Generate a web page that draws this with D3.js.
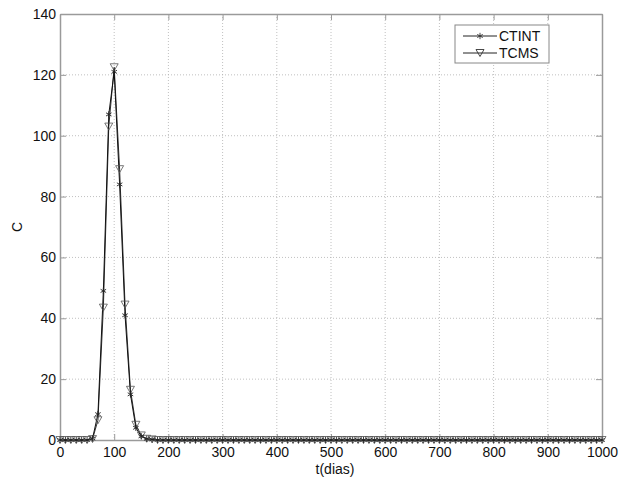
<!DOCTYPE html>
<html>
<head>
<meta charset="utf-8">
<script src="https://cdn.jsdelivr.net/npm/d3@7"></script>
<style>
  body { margin: 0; background: #fff; }
  text { font-family: "Liberation Sans", Arial, sans-serif; fill: #111; }
</style>
</head>
<body>
<svg id="chart" width="621" height="486"></svg>
<script>
// time (days)
var tDays = [0,10,20,30,40,50,60,70,80,90,100,110,120,130,140,150,160,170,180,190,
  200,210,220,230,240,250,260,270,280,290,300,310,320,330,340,350,360,370,380,390,
  400,410,420,430,440,450,460,470,480,490,500,510,520,530,540,550,560,570,580,590,
  600,610,620,630,640,650,660,670,680,690,700,710,720,730,740,750,760,770,780,790,
  800,810,820,830,840,850,860,870,880,890,900,910,920,930,940,950,960,970,980,990,1000];

// CTINT series
var ctint = [0,0,0,0,0,0,0.5,8.5,49,107,121,84,41,15,4,1.2,0.4,0.2,0,0,
  0,0,0,0,0,0,0,0,0,0,0,0,0,0,0,0,0,0,0,0,
  0,0,0,0,0,0,0,0,0,0,0,0,0,0,0,0,0,0,0,0,
  0,0,0,0,0,0,0,0,0,0,0,0,0,0,0,0,0,0,0,0,
  0,0,0,0,0,0,0,0,0,0,0,0,0,0,0,0,0,0,0,0,0];

// TCMS series
var tcms = [0,0,0,0,0,0,0.3,6.5,43.5,103,122.5,89,44.5,16.5,5,1.5,0.4,0.2,0,0,
  0,0,0,0,0,0,0,0,0,0,0,0,0,0,0,0,0,0,0,0,
  0,0,0,0,0,0,0,0,0,0,0,0,0,0,0,0,0,0,0,0,
  0,0,0,0,0,0,0,0,0,0,0,0,0,0,0,0,0,0,0,0,
  0,0,0,0,0,0,0,0,0,0,0,0,0,0,0,0,0,0,0,0,0];

var xTicks = [0,100,200,300,400,500,600,700,800,900,1000];
var yTicks = [0,20,40,60,80,100,120,140];

var mLeft = 60, mRight = 602, mTop = 14, mBottom = 440;
var width = mRight - mLeft, height = mBottom - mTop;

var svg = d3.select("#chart");
var g = svg.append("g").attr("transform", `translate(${mLeft},${mTop})`);

var xScale = d3.scaleLinear().domain([0, 1000]).range([0, width]);
var yScale = d3.scaleLinear().domain([0, 140]).range([height, 0]);

var axisColor = "#9a9a9a";

// grid
g.append("g").selectAll("line")
    .data(xTicks.slice(1, -1))
    .enter().append("line")
    .attr("x1", d => xScale(d)).attr("x2", d => xScale(d))
    .attr("y1", 0).attr("y2", height)
    .attr("stroke", "#b0b0b0").attr("stroke-width", 0.8)
    .attr("stroke-dasharray", "1,2");
g.append("g").selectAll("line")
    .data(yTicks.slice(1, -1))
    .enter().append("line")
    .attr("y1", d => yScale(d)).attr("y2", d => yScale(d))
    .attr("x1", 0).attr("x2", width)
    .attr("stroke", "#b0b0b0").attr("stroke-width", 0.8)
    .attr("stroke-dasharray", "1,2");

// axes (ticks inside, matlab style)
function styleAxis(sel) {
    sel.select(".domain").attr("stroke", axisColor).attr("stroke-width", 1.5);
    sel.selectAll(".tick line").attr("stroke", axisColor);
    sel.selectAll(".tick text").style("font-size", "14px").attr("fill", "#111");
}
g.append("g").attr("transform", `translate(0,${height})`)
    .call(d3.axisBottom(xScale).tickValues(xTicks).tickFormat(d3.format("d"))
        .tickSizeInner(-6).tickSizeOuter(0).tickPadding(7))
    .call(styleAxis);
g.append("g")
    .call(d3.axisLeft(yScale).tickValues(yTicks).tickSizeInner(-6).tickSizeOuter(0).tickPadding(4))
    .call(styleAxis);
g.append("g")
    .call(d3.axisTop(xScale).tickValues(xTicks).tickSizeInner(-6).tickSizeOuter(0).tickFormat(""))
    .call(styleAxis);
g.append("g").attr("transform", `translate(${width},0)`)
    .call(d3.axisRight(yScale).tickValues(yTicks).tickSizeInner(-6).tickSizeOuter(0).tickFormat(""))
    .call(styleAxis);

// lines
var ctintData = tDays.map((t, i) => ({t: t, v: ctint[i]}));
var tcmsData = tDays.map((t, i) => ({t: t, v: tcms[i]}));
var line = d3.line().x(d => xScale(d.t)).y(d => yScale(d.v));

g.append("path").datum(tcmsData)
    .attr("fill", "none").attr("stroke", "#333").attr("stroke-width", 1)
    .attr("d", line);
g.append("path").datum(ctintData)
    .attr("fill", "none").attr("stroke", "#111").attr("stroke-width", 1)
    .attr("d", line);

var starSym = d3.symbol().type(d3.symbolAsterisk).size(28);
var triPath = "M-4,-3.5L4,-3.5L0,3.5Z";

g.append("g").selectAll("path")
    .data(tcmsData)
    .enter().append("path")
    .attr("transform", d => `translate(${xScale(d.t)},${yScale(d.v)})`)
    .attr("d", triPath)
    .attr("fill", "none").attr("stroke", "#555").attr("stroke-width", 0.8);
g.append("g").selectAll("path")
    .data(ctintData)
    .enter().append("path")
    .attr("transform", d => `translate(${xScale(d.t)},${yScale(d.v)})`)
    .attr("d", starSym)
    .attr("fill", "none").attr("stroke", "#222").attr("stroke-width", 0.9);

// axis labels
svg.append("text")
    .attr("x", 335).attr("y", 474)
    .attr("text-anchor", "middle").style("font-size", "14px")
    .text("t(dias)");
svg.append("text")
    .attr("transform", "translate(22," + (mTop + height / 2) + ") rotate(-90)")
    .attr("text-anchor", "middle").style("font-size", "14px")
    .text("C");

// legend
var legend = svg.append("g");
legend.append("rect")
    .attr("x", 455).attr("y", 25).attr("width", 94).attr("height", 38)
    .attr("fill", "#fff").attr("stroke", "#888").attr("stroke-width", 1);
var legendItems = [
    {name: "CTINT", y: 36, sym: "star"},
    {name: "TCMS", y: 53, sym: "tri"}
];
legendItems.forEach(function(it) {
    legend.append("line")
        .attr("x1", 463).attr("x2", 497).attr("y1", it.y).attr("y2", it.y)
        .attr("stroke", "#222").attr("stroke-width", 1);
    legend.append("path")
        .attr("transform", `translate(480,${it.y})`)
        .attr("d", it.sym == "star" ? starSym : triPath)
        .attr("fill", "none").attr("stroke", "#333").attr("stroke-width", 0.9);
    legend.append("text")
        .attr("x", 499).attr("y", it.y + 5)
        .style("font-size", "14px")
        .text(it.name);
});
</script>
</body>
</html>
